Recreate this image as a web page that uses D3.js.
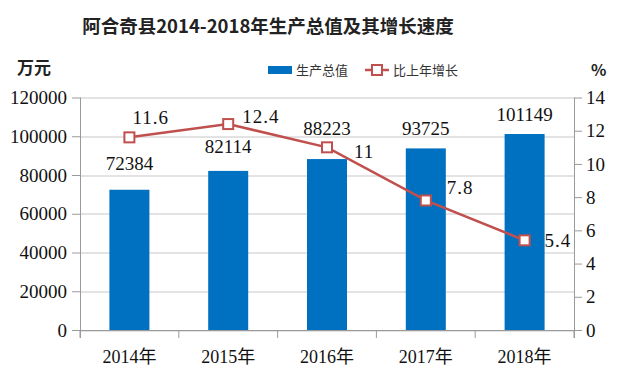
<!DOCTYPE html>
<html lang="zh">
<head>
    <meta charset="utf-8">
    <title>阿合奇县2014-2018年生产总值及其增长速度</title>
    <script src="https://d3js.org/d3.v7.min.js"></script>
    <style>
        body { margin: 0; background: #fff; }
    </style>
</head>
<body>
    <script>
        // data
        var years = ["2014年", "2015年", "2016年", "2017年", "2018年"];
        var gdp = [72384, 82114, 88223, 93725, 101149];
        var growth = [11.6, 12.4, 11, 7.8, 5.4];
        var leftTicks = [0, 20000, 40000, 60000, 80000, 100000, 120000];
        var rightTicks = [0, 2, 4, 6, 8, 10, 12, 14];

        // label nudges (layout only)
        var barLabelDy = [-26, -24, -30, -19, -19];
        var lineLabelDx = [3, 14, 27, 21, 20];
        var lineLabelDy = [-19, -7, 5, -12, 1];

        var SERIF = '"Liberation Serif", "DejaVu Serif", "Noto Sans CJK SC", serif';
        var SANS = '"Noto Sans CJK SC", "Noto Sans", sans-serif';

        var width = 620, height = 375;
        var margin = {top: 97.5, right: 46, bottom: 45, left: 80};
        var plotW = width - margin.left - margin.right;
        var plotH = height - margin.top - margin.bottom;

        var svg = d3.select("body").append("svg")
            .attr("width", width)
            .attr("height", height);

        // title
        svg.append("text")
            .attr("x", 268).attr("y", 33)
            .attr("text-anchor", "middle")
            .style("font-family", SANS)
            .style("font-size", "18.5px")
            .style("font-weight", "bold")
            .style("fill", "#222")
            .text("阿合奇县2014-2018年生产总值及其增长速度");

        // unit labels
        svg.append("text")
            .attr("x", 17).attr("y", 74)
            .style("font-family", SANS)
            .style("font-size", "17px").style("font-weight", "bold").style("fill", "#222")
            .text("万元");
        svg.append("text")
            .attr("x", 591).attr("y", 76)
            .style("font-family", SANS)
            .style("font-size", "16px").style("font-weight", "bold").style("fill", "#222")
            .text("%");

        var g = svg.append("g")
            .attr("transform", "translate(" + margin.left + "," + margin.top + ")");

        var xc = d3.scaleBand().domain(years).range([0, plotW]); // category slots
        var y = d3.scaleLinear().domain([0, 120000]).range([plotH, 0]);
        var y2 = d3.scaleLinear().domain([0, 14]).range([plotH, 0]);

        // gridlines
        g.selectAll(".grid").data(leftTicks).join("line")
            .attr("x1", 0).attr("x2", plotW)
            .attr("y1", function(d){ return Math.round(y(d)) + 0.5; })
            .attr("y2", function(d){ return Math.round(y(d)) + 0.5; })
            .style("stroke", "#c8c8c8").style("stroke-width", 1.2);

        // bars
        g.selectAll(".bar").data(gdp).join("rect")
            .attr("x", function(d, i){ return xc(years[i]) + xc.bandwidth()/2 - 20; })
            .attr("width", 40)
            .attr("y", function(d){ return y(d); })
            .attr("height", function(d){ return plotH - y(d); })
            .style("fill", "#0070c0");

        // left axis
        var yAxis = g.append("g")
            .call(d3.axisLeft(y).tickValues(leftTicks).tickFormat(d3.format("d")).tickSize(8).tickPadding(5));
        // right axis
        var y2Axis = g.append("g").attr("transform", "translate(" + plotW + ",0)")
            .call(d3.axisRight(y2).tickValues(rightTicks).tickFormat(d3.format("d")).tickSize(8).tickPadding(4));
        // bottom axis with ticks at category boundaries
        var xAxisG = g.append("g").attr("transform", "translate(0," + plotH + ")");
        xAxisG.append("line").attr("x1", 0).attr("x2", plotW).attr("y1", 0.5).attr("y2", 0.5);
        xAxisG.selectAll(".xt").data(d3.range(years.length + 1)).join("line")
            .attr("x1", function(i){ return i * xc.step(); })
            .attr("x2", function(i){ return i * xc.step(); })
            .attr("y1", 0).attr("y2", 8);
        xAxisG.selectAll("line").style("stroke", "#9a9a9a");
        xAxisG.selectAll(".xl").data(years).join("text")
            .attr("x", function(d){ return xc(d) + xc.bandwidth()/2; })
            .attr("y", 33)
            .attr("text-anchor", "middle")
            .style("font-family", SERIF)
            .style("font-size", "18px").style("fill", "#111")
            .text(function(d){ return d; });

        [yAxis, y2Axis].forEach(function(a){
            a.select(".domain").style("stroke", "#9a9a9a");
            a.selectAll(".tick line").style("stroke", "#9a9a9a");
            a.selectAll(".tick text")
                .style("font-family", SERIF)
                .style("font-size", "19px").style("fill", "#111");
        });
        y2Axis.select(".domain").attr("d", "M0.5,0V" + (plotH + 8));
        yAxis.select(".domain").attr("d", "M0.5,0V" + (plotH + 8));

        // bar value labels
        g.selectAll(".blab").data(gdp).join("text")
            .attr("x", function(d, i){ return xc(years[i]) + xc.bandwidth()/2; })
            .attr("y", function(d, i){ return y(d) + barLabelDy[i] + 6; })
            .attr("text-anchor", "middle")
            .style("font-family", SERIF)
            .style("font-size", "19px").style("fill", "#111")
            .text(function(d){ return d; });

        // growth line
        var line = d3.line()
            .x(function(d, i){ return xc(years[i]) + xc.bandwidth()/2; })
            .y(function(d){ return y2(d); });
        g.append("path").datum(growth)
            .attr("d", line)
            .style("fill", "none").style("stroke", "#c0504d").style("stroke-width", 2.5);
        g.selectAll(".mk").data(growth).join("rect")
            .attr("x", function(d, i){ return xc(years[i]) + xc.bandwidth()/2 - 5; })
            .attr("y", function(d){ return y2(d) - 5; })
            .attr("width", 10).attr("height", 10)
            .style("fill", "#fff").style("stroke", "#c0504d").style("stroke-width", 2);

        // growth labels
        g.selectAll(".llab").data(growth).join("text")
            .attr("x", function(d, i){ return xc(years[i]) + xc.bandwidth()/2 + lineLabelDx[i]; })
            .attr("y", function(d, i){ return y2(d) + lineLabelDy[i] + 6; })
            .style("font-family", SERIF)
            .style("font-size", "19px").style("fill", "#111")
            .style("letter-spacing", "1px")
            .text(function(d){ return d; });

        // legend
        var lg = svg.append("g").attr("transform", "translate(268,70)");
        lg.append("rect").attr("x", 0).attr("y", -4).attr("width", 24).attr("height", 8).style("fill", "#0070c0");
        lg.append("text").attr("x", 28).attr("y", 5)
            .style("font-family", SANS)
            .style("font-size", "13px").style("fill", "#333").text("生产总值");
        lg.append("line").attr("x1", 97).attr("x2", 121).attr("y1", 0).attr("y2", 0)
            .style("stroke", "#c0504d").style("stroke-width", 2.5);
        lg.append("rect").attr("x", 104).attr("y", -5).attr("width", 10).attr("height", 10)
            .style("fill", "#fff").style("stroke", "#c0504d").style("stroke-width", 2);
        lg.append("text").attr("x", 125).attr("y", 5)
            .style("font-family", SANS)
            .style("font-size", "13px").style("fill", "#333").text("比上年增长");
    </script>
</body>
</html>
